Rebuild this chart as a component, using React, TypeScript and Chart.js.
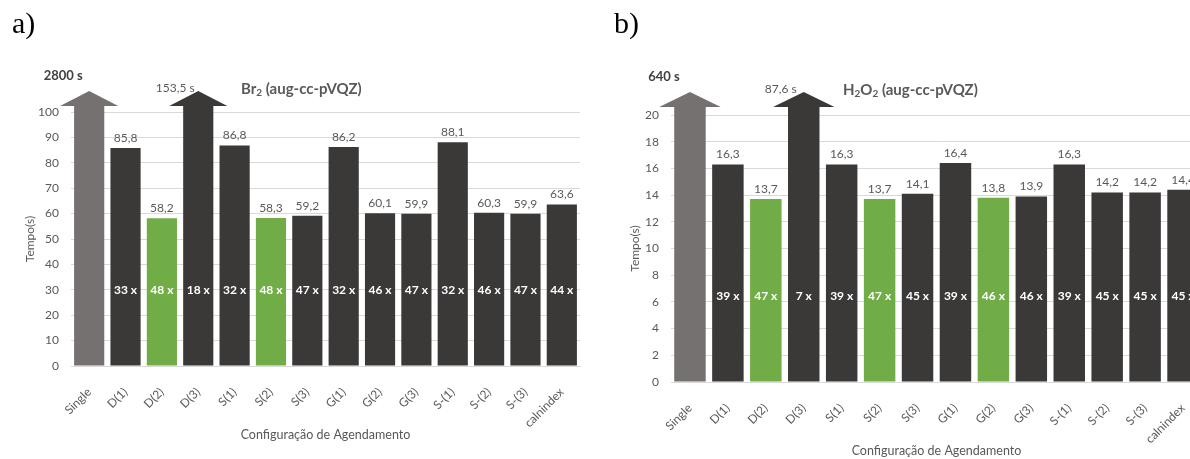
import React, { useEffect, useRef } from "react";
import { Chart, registerables } from "chart.js";

Chart.register(...registerables);

// Scheduling configurations shown on the x axis of both panels
const categories = [
  "Single", "D(1)", "D(2)", "D(3)", "S(1)", "S(2)", "S(3)",
  "G(1)", "G(2)", "G(3)", "S-(1)", "S-(2)", "S-(3)", "calnindex",
];

// Br2 (aug-cc-pVQZ): wall time in seconds and speed-up over the serial run
const br2Times = [2800, 85.8, 58.2, 153.5, 86.8, 58.3, 59.2, 86.2, 60.1, 59.9, 88.1, 60.3, 59.9, 63.6];
const br2Speedup = [null, 33, 48, 18, 32, 48, 47, 32, 46, 47, 32, 46, 47, 44];
const br2Best = ["D(2)", "S(2)"];

// H2O2 (aug-cc-pVQZ)
const h2o2Times = [640, 16.3, 13.7, 87.6, 16.3, 13.7, 14.1, 16.4, 13.8, 13.9, 16.3, 14.2, 14.2, 14.4];
const h2o2Speedup = [null, 39, 47, 7, 39, 47, 45, 39, 46, 46, 39, 45, 45, 45];
const h2o2Best = ["D(2)", "S(2)", "G(2)"];

const FONT = "Lato, 'Open Sans', sans-serif";
const TEXT = "#595959";
const GRID = "#D9D9D9";
const SERIAL = "#767171";
const PARALLEL = "#3B3838";
const BEST = "#70AD47";

type Part = { t: string; sub?: boolean };

type PanelSpec = {
  left: number;
  width: number;
  times: number[];
  speedup: (number | null)[];
  best: string[];
  yMax: number;
  yStep: number;
  speedupLevel: number;
  titleParts: Part[];
  titleX: number;
  titleY: number;
  padTop: number;
  padRight: number;
  yAxisWidth: number;
  xAxisHeight: number;
  yTitleOffset: number;
  xTitleOffset: number;
  arrowLift: number;
  headOut: number;
};

const fmt = (v: number) =>
  Number.isInteger(v) ? String(v) : v.toFixed(1).replace(".", ",");

// Draws the arrow heads of off-scale bars, the value labels, speed-up labels and the title
const decorPlugin = {
  id: "panelDecor",
  afterDatasetsDraw(chart: any, _args: any, opts: any) {
    const { ctx, chartArea } = chart;
    const yScale = chart.scales.y;
    const ds = chart.data.datasets[0];
    const meta = chart.getDatasetMeta(0);
    ctx.save();
    meta.data.forEach((bar: any, i: number) => {
      const v = ds.data[i] as number;
      const { x, width, y } = bar.getProps(["x", "width", "y"], true);
      const color = (ds.backgroundColor as string[])[i];
      if (v > yScale.max) {
        const baseY = chartArea.top - opts.arrowLift;
        const tipY = baseY - 15;
        ctx.fillStyle = color;
        ctx.beginPath();
        ctx.moveTo(x - width / 2 - opts.headOut, baseY);
        ctx.lineTo(x + width / 2 + opts.headOut, baseY);
        ctx.lineTo(x, tipY);
        ctx.closePath();
        ctx.fill();
        ctx.fillStyle = i === 0 ? "#404040" : TEXT;
        ctx.textAlign = "center";
        ctx.textBaseline = "middle";
        if (i === 0) {
          ctx.font = `bold 13px ${FONT}`;
          ctx.fillText(`${fmt(v)} s`, x - 26, tipY - 15);
        } else {
          ctx.font = `12px ${FONT}`;
          ctx.fillText(`${fmt(v)} s`, x - 23, tipY - 3);
        }
      } else {
        ctx.fillStyle = TEXT;
        ctx.font = `12px ${FONT}`;
        ctx.textAlign = "center";
        ctx.textBaseline = "bottom";
        ctx.fillText(fmt(v), x, y - 4);
      }
      const s = opts.speedup[i];
      if (s !== null && s !== undefined) {
        ctx.fillStyle = "#FFFFFF";
        ctx.font = `bold 12px ${FONT}`;
        ctx.textAlign = "center";
        ctx.textBaseline = "middle";
        ctx.fillText(`${s} x`, x, yScale.getPixelForValue(opts.speedupLevel));
      }
    });

    // Chart title with subscripts
    let cx = opts.titleX;
    ctx.fillStyle = TEXT;
    ctx.textAlign = "left";
    ctx.textBaseline = "middle";
    (opts.titleParts as Part[]).forEach((p) => {
      ctx.font = p.sub ? `bold 10px ${FONT}` : `bold 15px ${FONT}`;
      ctx.fillText(p.t, cx, opts.titleY + (p.sub ? 4 : 0));
      cx += ctx.measureText(p.t).width;
    });
    ctx.restore();
  },
};

function Panel({ spec }: { spec: PanelSpec }) {
  const ref = useRef<HTMLCanvasElement | null>(null);

  useEffect(() => {
    if (!ref.current) return;
    const colors = categories.map((c, i) =>
      i === 0 ? SERIAL : spec.best.includes(c) ? BEST : PARALLEL
    );
    const chart = new Chart(ref.current, {
      type: "bar",
      data: {
        labels: categories,
        datasets: [
          {
            data: spec.times,
            backgroundColor: colors,
            borderWidth: 0,
            categoryPercentage: 1,
            barPercentage: 0.83,
            clip: { left: false, top: spec.arrowLift, right: false, bottom: 0 } as any,
          },
        ],
      },
      options: {
        animation: false,
        responsive: false,
        devicePixelRatio: 1,
        layout: { padding: { top: spec.padTop, right: spec.padRight, left: 0, bottom: 0 } },
        plugins: {
          legend: { display: false },
          tooltip: { enabled: false },
          panelDecor: {
            speedup: spec.speedup,
            speedupLevel: spec.speedupLevel,
            titleParts: spec.titleParts,
            titleX: spec.titleX,
            titleY: spec.titleY,
            arrowLift: spec.arrowLift,
            headOut: spec.headOut,
          },
        } as any,
        scales: {
          x: {
            grid: { display: false },
            border: { color: GRID },
            ticks: {
              color: TEXT,
              font: { family: FONT, size: 12 },
              minRotation: 45,
              maxRotation: 45,
              autoSkip: false,
              padding: 11,
            },
            title: {
              display: true,
              text: "Configuração de Agendamento",
              color: TEXT,
              font: { family: FONT, size: 12.5 },
              padding: { top: 0, bottom: spec.xTitleOffset },
            },
            afterFit: (s: any) => {
              s.height = spec.xAxisHeight;
            },
          },
          y: {
            min: 0,
            max: spec.yMax,
            grid: { color: GRID, drawTicks: false },
            border: { display: false },
            ticks: {
              stepSize: spec.yStep,
              color: TEXT,
              font: { family: FONT, size: 12 },
              padding: 12,
            },
            title: {
              display: true,
              text: "Tempo(s)",
              color: TEXT,
              font: { family: FONT, size: 12 },
              padding: { top: spec.yTitleOffset, bottom: 0 },
            },
            afterFit: (s: any) => {
              s.width = spec.yAxisWidth;
            },
          },
        },
      },
      plugins: [decorPlugin],
    });
    return () => chart.destroy();
  }, [spec]);

  return (
    <canvas
      ref={ref}
      width={spec.width}
      height={459}
      style={{ position: "absolute", left: spec.left, top: 0, width: spec.width, height: 459, display: "block" }}
    />
  );
}

const panelA: PanelSpec = {
  left: 0,
  width: 600,
  times: br2Times,
  speedup: br2Speedup,
  best: br2Best,
  yMax: 100,
  yStep: 10,
  speedupLevel: 30,
  titleParts: [{ t: "Br" }, { t: "2", sub: true }, { t: " (aug-cc-pVQZ)" }],
  titleX: 241,
  titleY: 89,
  padTop: 112,
  padRight: 20,
  yAxisWidth: 71,
  xAxisHeight: 93,
  yTitleOffset: 23,
  xTitleOffset: 17,
  arrowLift: 6,
  headOut: 14,
};

const panelB: PanelSpec = {
  left: 600,
  width: 620,
  times: h2o2Times,
  speedup: h2o2Speedup,
  best: h2o2Best,
  yMax: 20,
  yStep: 2,
  speedupLevel: 6.4,
  titleParts: [{ t: "H" }, { t: "2", sub: true }, { t: "O" }, { t: "2", sub: true }, { t: " (aug-cc-pVQZ)" }],
  titleX: 243,
  titleY: 90,
  padTop: 115,
  padRight: 18,
  yAxisWidth: 71,
  xAxisHeight: 77,
  yTitleOffset: 28,
  xTitleOffset: 1,
  arrowLift: 8,
  headOut: 15,
};

const letterStyle: React.CSSProperties = {
  position: "absolute",
  top: 8,
  fontFamily: "'Liberation Serif', 'Times New Roman', serif",
  fontSize: 30,
  lineHeight: "30px",
  color: "#000",
};

export default function App() {
  return (
    <div
      style={{
        position: "fixed",
        left: 0,
        top: 0,
        width: 1190,
        height: 459,
        overflow: "hidden",
        background: "#FFFFFF",
      }}
    >
      <Panel spec={panelA} />
      <Panel spec={panelB} />
      <div style={{ ...letterStyle, left: 12 }}>a)</div>
      <div style={{ ...letterStyle, left: 614 }}>b)</div>
    </div>
  );
}
